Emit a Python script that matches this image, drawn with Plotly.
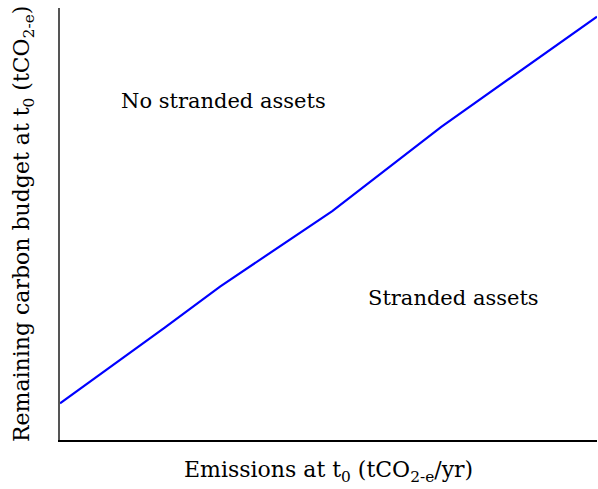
import plotly.graph_objects as go

# Emissions vs remaining carbon budget threshold curve (arbitrary units)
emissions = [0, 1.95, 2.98, 4.0, 5.07, 7.1, 10]
budget = [0.85, 2.6, 3.55, 4.4, 5.3, 7.25, 9.8]

region_labels = ["No stranded assets", "Stranded assets"]
region_x = [3.05, 7.32]
region_y = [7.85, 3.29]

x_title = "Emissions at t<sub>0</sub> (tCO<sub>2-e</sub>/yr)"
y_title = "Remaining carbon budget at t<sub>0</sub> (tCO<sub>2-e</sub>)"

FONT = "DejaVu Serif"
SIZE = 21

fig = go.Figure()
fig.add_trace(go.Scatter(
    x=emissions, y=budget, mode="lines",
    line=dict(color="#0000ff", width=2.2),
    showlegend=False, hoverinfo="skip",
))

for txt, x, y in zip(region_labels, region_x, region_y):
    fig.add_annotation(x=x, y=y, xref="x", yref="y", text=txt,
                       showarrow=False, font=dict(family=FONT, size=SIZE, color="black"))

fig.add_annotation(x=0.5, y=0, xref="paper", yref="paper", yshift=-31,
                   text=x_title, showarrow=False, yanchor="middle",
                   font=dict(family=FONT, size=22, color="black"))
fig.add_annotation(x=0, y=0.5, xref="paper", yref="paper", xshift=-37,
                   text=y_title, showarrow=False, textangle=-90, xanchor="center",
                   font=dict(family=FONT, size=22, color="black"))

fig.update_xaxes(range=[0, 10], showline=True, linecolor="black", linewidth=1.5,
                 showgrid=False, zeroline=False, showticklabels=False, ticks="")
fig.update_yaxes(range=[0, 10], showline=True, linecolor="#555555", linewidth=1.5,
                 showgrid=False, zeroline=False, showticklabels=False, ticks="")

fig.update_layout(
    width=598, height=489,
    margin=dict(l=60, r=1, t=8, b=49),
    plot_bgcolor="white", paper_bgcolor="white",
)

fig.write_html("out.html")
